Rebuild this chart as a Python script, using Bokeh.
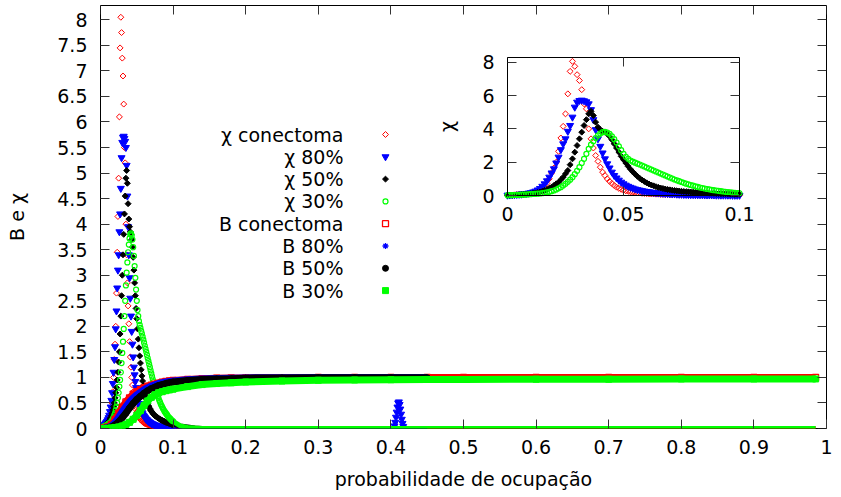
import numpy as np
from bokeh.plotting import figure
from bokeh.models import (Range1d, LinearAxis, FixedTicker, NumeralTickFormatter,
                          CustomJSTickFormatter)
from bokeh.core.properties import value
from bokeh.embed import file_html
from bokeh.resources import INLINE

FONT = "DejaVu Sans"
FS = "19px"
RED, BLUE, BLACK, GREEN = "#ff0000", "#0000ff", "#000000", "#00ff00"

# ---------------------------------------------------------------- data
# fine scan of the occupation probability, 0 .. 0.1 in steps of 0.001
P_FINE = np.round(np.arange(101) * 0.001, 3)

CHI_CON = [0.02, 0.03, 0.03, 0.04, 0.05, 0.05, 0.06, 0.07, 0.08, 0.09, 0.10,
           0.12, 0.15, 0.19, 0.25, 0.35, 0.50, 0.72, 1.00, 1.35, 1.65,
           2.00, 2.65, 3.45, 4.15, 4.90, 6.10, 7.45, 8.05, 7.75, 7.25,
           6.90, 6.35, 5.50, 5.20, 4.00, 3.40, 2.85, 2.40, 2.05, 1.70,
           1.40, 1.20, 1.00, 0.85, 0.72, 0.60, 0.50, 0.43, 0.37, 0.32,
           0.28, 0.25, 0.22, 0.20, 0.18, 0.16, 0.15, 0.13, 0.12, 0.11,
           0.10, 0.09, 0.09, 0.08, 0.08, 0.07, 0.07, 0.06, 0.06, 0.06,
           0.05, 0.05, 0.05, 0.04, 0.04, 0.04, 0.04, 0.03, 0.03, 0.03,
           0.03, 0.03, 0.03, 0.02, 0.02, 0.02, 0.02, 0.02, 0.02, 0.02,
           0.02, 0.02, 0.01, 0.01, 0.01, 0.01, 0.01, 0.01, 0.01, 0.01]

CHI_80 = [0.02, 0.03, 0.04, 0.05, 0.06, 0.07, 0.08, 0.10, 0.12, 0.14, 0.17,
          0.21, 0.26, 0.33, 0.42, 0.55, 0.70, 0.88, 1.10, 1.35, 1.60,
          1.95, 2.30, 2.75, 3.10, 3.40, 3.85, 4.20, 4.70, 5.30, 5.60,
          5.70, 5.72, 5.68, 5.62, 5.50, 5.15, 4.55, 3.95, 3.40, 2.95,
          2.55, 2.20, 1.90, 1.65, 1.40, 1.20, 1.05, 0.92, 0.80, 0.70,
          0.62, 0.55, 0.49, 0.44, 0.39, 0.35, 0.32, 0.29, 0.26, 0.24,
          0.22, 0.20, 0.18, 0.17, 0.15, 0.14, 0.13, 0.12, 0.11, 0.10,
          0.09, 0.09, 0.08, 0.07, 0.07, 0.06, 0.06, 0.05, 0.05, 0.05,
          0.04, 0.04, 0.04, 0.04, 0.03, 0.03, 0.03, 0.03, 0.03, 0.02,
          0.02, 0.02, 0.02, 0.02, 0.02, 0.02, 0.01, 0.01, 0.01, 0.01]

CHI_50 = [0.01, 0.02, 0.02, 0.03, 0.04, 0.05, 0.06, 0.07, 0.08, 0.09, 0.11,
          0.13, 0.15, 0.18, 0.21, 0.25, 0.30, 0.36, 0.43, 0.50, 0.60,
          0.70, 0.80, 0.95, 1.10, 1.30, 1.50, 1.85, 2.20, 2.60, 3.00,
          3.40, 3.80, 4.20, 4.55, 4.90, 5.05, 4.80, 4.40, 4.10, 3.95,
          3.85, 3.80, 3.70, 3.55, 3.35, 3.10, 2.85, 2.60, 2.35, 2.15,
          1.95, 1.75, 1.58, 1.42, 1.28, 1.15, 1.03, 0.93, 0.84, 0.76,
          0.69, 0.63, 0.58, 0.53, 0.49, 0.45, 0.42, 0.39, 0.36, 0.34,
          0.32, 0.30, 0.28, 0.27, 0.25, 0.24, 0.23, 0.22, 0.21, 0.20,
          0.19, 0.18, 0.17, 0.16, 0.16, 0.15, 0.14, 0.14, 0.13, 0.12,
          0.12, 0.11, 0.11, 0.10, 0.10, 0.09, 0.09, 0.08, 0.08, 0.08]

CHI_30 = [0.01, 0.02, 0.02, 0.03, 0.03, 0.04, 0.05, 0.05, 0.06, 0.07, 0.08,
          0.09, 0.10, 0.11, 0.12, 0.14, 0.16, 0.19, 0.22, 0.26, 0.30,
          0.36, 0.43, 0.50, 0.60, 0.70, 0.82, 0.95, 1.10, 1.28, 1.48,
          1.70, 1.95, 2.20, 2.50, 2.80, 3.05, 3.25, 3.45, 3.60, 3.72,
          3.80, 3.82, 3.78, 3.70, 3.55, 3.38, 3.18, 2.95, 2.72, 2.50,
          2.32, 2.20, 2.10, 2.03, 1.97, 1.91, 1.86, 1.80, 1.74, 1.68,
          1.62, 1.56, 1.50, 1.44, 1.38, 1.32, 1.26, 1.20, 1.14, 1.08,
          1.02, 0.96, 0.91, 0.86, 0.81, 0.76, 0.71, 0.67, 0.63, 0.59,
          0.55, 0.52, 0.48, 0.45, 0.42, 0.39, 0.37, 0.34, 0.32, 0.30,
          0.28, 0.26, 0.24, 0.22, 0.21, 0.19, 0.18, 0.16, 0.15, 0.14]

# susceptibility beyond p = 0.1 (coarse samples)
P_TAIL_LONG = [0.10, 0.11, 0.12, 0.13, 0.14, 0.16, 0.2, 0.3, 0.4, 0.5, 0.6, 0.7, 0.8, 0.9, 0.985]
P_TAIL_SHORT = [0.10, 0.11, 0.12, 0.13, 0.14, 0.16, 0.2, 0.3, 0.4, 0.45]
CHI_CON_TAIL = [0.01, 0.01, 0.0, 0.0, 0.0, 0.0, 0.0, 0.0, 0.0, 0.0, 0.0, 0.0, 0.0, 0.0, 0.0]
CHI_80_TAIL = [0.01, 0.01, 0.0, 0.0, 0.0, 0.0, 0.0, 0.0, 0.0, 0.0]
CHI_50_TAIL = [0.08, 0.05, 0.03, 0.01, 0.0, 0.0, 0.0, 0.0, 0.0, 0.0]
CHI_30_TAIL = [0.14, 0.05, 0.02, 0.01, 0.0, 0.0, 0.0, 0.0, 0.0, 0.0, 0.0, 0.0, 0.0, 0.0, 0.0]

# isolated fluctuation of the 80% network near p = 0.41
P_SPIKE = [0.405, 0.406, 0.407, 0.408, 0.409, 0.410, 0.411, 0.412, 0.413, 0.414, 0.415, 0.416, 0.417]
CHI_80_SPIKE = [0.05, 0.12, 0.22, 0.32, 0.42, 0.50, 0.52, 0.47, 0.38, 0.28, 0.18, 0.10, 0.04]

# order parameter B
P_B = [0.0, 0.005, 0.01, 0.015, 0.02, 0.025, 0.03, 0.035, 0.04, 0.045, 0.05,
       0.055, 0.06, 0.065, 0.07, 0.075, 0.08, 0.085, 0.09, 0.095, 0.1,
       0.12, 0.14, 0.16, 0.18, 0.2, 0.25, 0.3, 0.35, 0.4, 0.45,
       0.5, 0.6, 0.7, 0.8, 0.9, 0.985]
B_CON = [0.0, 0.01, 0.03, 0.08, 0.18, 0.30, 0.42, 0.52, 0.60, 0.67, 0.72,
         0.76, 0.80, 0.83, 0.85, 0.87, 0.89, 0.905, 0.92, 0.93, 0.94,
         0.96, 0.975, 0.985, 0.99, 0.99, 0.995, 1.0, 1.0, 1.0, 1.0,
         1.0, 1.0, 1.0, 1.0, 1.0, 1.0]
B_80 = [0.0, 0.005, 0.02, 0.05, 0.12, 0.22, 0.33, 0.43, 0.52, 0.60, 0.66,
        0.71, 0.76, 0.80, 0.83, 0.855, 0.88, 0.895, 0.91, 0.92, 0.93,
        0.955, 0.97, 0.98, 0.985, 0.99, 0.995, 1.0, 1.0, 1.0, 1.0]
B_50 = [0.0, 0.003, 0.01, 0.03, 0.07, 0.13, 0.21, 0.30, 0.40, 0.49, 0.57,
        0.63, 0.69, 0.74, 0.78, 0.81, 0.84, 0.86, 0.88, 0.895, 0.91,
        0.94, 0.96, 0.97, 0.975, 0.985, 0.99, 0.995, 0.995, 0.995, 0.995]
B_30 = [0.0, 0.002, 0.005, 0.01, 0.02, 0.03, 0.05, 0.08, 0.12, 0.18, 0.26,
        0.35, 0.45, 0.54, 0.61, 0.66, 0.70, 0.72, 0.74, 0.755, 0.77,
        0.82, 0.86, 0.88, 0.895, 0.91, 0.93, 0.945, 0.95, 0.955, 0.96,
        0.96, 0.965, 0.965, 0.97, 0.97, 0.97]

LEGEND_LABELS = ["χ conectoma", "χ 80%", "χ 50%", "χ 30%",
                 "B conectoma", "B 80%", "B 50%", "B 30%"]
X_TICKS = [0, 0.1, 0.2, 0.3, 0.4, 0.5, 0.6, 0.7, 0.8, 0.9, 1]
Y_TICKS = [0, 0.5, 1, 1.5, 2, 2.5, 3, 3.5, 4, 4.5, 5, 5.5, 6, 6.5, 7, 7.5, 8]
INSET_X_TICKS = [0, 0.05, 0.1]
INSET_Y_TICKS = [0, 2, 4, 6, 8]

# ---------------------------------------------------------------- styles
STYLES = [
    dict(marker="square", size=4.2, angle=np.pi / 4, line_color=RED, fill_color=None, line_width=1),
    dict(marker="inverted_triangle", size=7, line_color=BLUE, fill_color=BLUE, line_width=1),
    dict(marker="square", size=4.2, angle=np.pi / 4, line_color=BLACK, fill_color=BLACK, line_width=1),
    dict(marker="circle", size=5, line_color=GREEN, fill_color=None, line_width=1.2),
    dict(marker="square", size=6, line_color=RED, fill_color=None, line_width=1.3),
    dict(marker="asterisk", size=6, line_color=BLUE, line_width=1.3),
    dict(marker="circle", size=6, line_color=BLACK, fill_color=BLACK),
    dict(marker="square", size=6, line_color=GREEN, fill_color=GREEN),
]
COLORS = [RED, BLUE, BLACK, GREEN]

YMAX = 8.28
W, H = 841, 497
FRAME_L, FRAME_R, FRAME_T, FRAME_B = 100, 826, 5, 428


def px_x(px):
    return (px - FRAME_L) / (FRAME_R - FRAME_L)


def px_y(py):
    return (FRAME_B - py) / (FRAME_B - FRAME_T) * YMAX


p = figure(width=W, height=H, x_range=Range1d(0, 1), y_range=Range1d(0, YMAX),
           output_backend="svg", toolbar_location=None,
           min_border_left=FRAME_L, min_border_right=W - FRAME_R,
           min_border_top=FRAME_T, min_border_bottom=H - FRAME_B)
p.grid.visible = False
p.outline_line_color = "black"
p.outline_line_width = 1
p.background_fill_color = "white"
p.border_fill_color = "white"


def style_axis(ax, line=False):
    ax.axis_line_color = "black" if line else None
    ax.major_tick_in = 9
    ax.major_tick_out = 0
    ax.major_tick_line_color = "#333333"
    ax.minor_tick_line_color = None
    ax.major_label_text_font = FONT
    ax.major_label_text_font_size = FS
    ax.major_label_text_color = "black"
    ax.axis_label_text_font = FONT
    ax.axis_label_text_font_size = FS
    ax.axis_label_text_font_style = "normal"
    ax.axis_label_text_color = "black"


xa = p.xaxis[0]
ya = p.yaxis[0]
xa.ticker = FixedTicker(ticks=X_TICKS)
ya.ticker = FixedTicker(ticks=Y_TICKS)
xa.formatter = NumeralTickFormatter(format="0.[0]")
ya.formatter = NumeralTickFormatter(format="0.[0]")
xa.axis_label = "probabilidade de ocupação"
ya.axis_label = "B e χ"
style_axis(xa)
style_axis(ya)
xa.major_label_standoff = 11
xa.axis_label_standoff = 11
ya.major_label_standoff = 13
ya.axis_label_standoff = 26

blank = CustomJSTickFormatter(code="return ''")
top = LinearAxis(ticker=FixedTicker(ticks=X_TICKS), formatter=blank, fixed_location=YMAX)
right = LinearAxis(ticker=FixedTicker(ticks=Y_TICKS), formatter=blank, fixed_location=1)
style_axis(top)
style_axis(right)
p.add_layout(top, "above")
p.add_layout(right, "right")

# ---------------------------------------------------------------- main panel
chi_series = [CHI_CON, CHI_80, CHI_50, CHI_30]
chi_tails = [(P_TAIL_LONG, CHI_CON_TAIL), (P_TAIL_SHORT, CHI_80_TAIL),
             (P_TAIL_SHORT, CHI_50_TAIL), (P_TAIL_LONG, CHI_30_TAIL)]
for i, chi in enumerate(chi_series):
    tp, tv = chi_tails[i]
    p.line(tp, tv, line_color=COLORS[i], line_width=5)
    p.scatter(P_FINE, chi, **STYLES[i])
    if i == 1:
        p.scatter(P_SPIKE, CHI_80_SPIKE, **STYLES[i])

b_series = [B_CON, B_80, B_50, B_30]
for i, b in enumerate(b_series):
    n = len(b)
    p.line(P_B[:n], b, line_color=COLORS[i], line_width=7)
    p.scatter(P_B[:n], b, **STYLES[4 + i])

# legend (gnuplot style: right-aligned text, sample to the right)
LEG_TEXT_X = px_x(343)
LEG_MARK_X = px_x(385)
for i, label in enumerate(LEGEND_LABELS):
    ly = px_y(134 + i * 22.3)
    p.text(x=[LEG_TEXT_X], y=[ly], text=[label], text_align="right",
           text_baseline="middle", text_font=value(FONT), text_font_size=FS,
           text_color="black")
    p.scatter(x=[LEG_MARK_X], y=[ly], **STYLES[i])

# ---------------------------------------------------------------- inset
IN_L, IN_R, IN_T, IN_B = 507, 739, 57, 195
ax0, ax1 = px_x(IN_L), px_x(IN_R)
ay0, ay1 = px_y(IN_B), px_y(IN_T)
kx = 0.1 / (ax1 - ax0)
ky = YMAX / (ay1 - ay0)
p.extra_x_ranges = {"ix": Range1d(-ax0 * kx, (1 - ax0) * kx)}
p.extra_y_ranges = {"iy": Range1d(-ay0 * ky, (YMAX - ay0) * ky)}

p.quad(left=[0], right=[0.1], bottom=[0], top=[YMAX], fill_color="white",
       line_color=None, x_range_name="ix", y_range_name="iy")

il = LinearAxis(x_range_name="ix", y_range_name="iy", fixed_location=0,
                ticker=FixedTicker(ticks=INSET_Y_TICKS), bounds=(0, YMAX),
                axis_label="χ")
ib = LinearAxis(x_range_name="ix", y_range_name="iy", fixed_location=0,
                ticker=FixedTicker(ticks=INSET_X_TICKS), bounds=(0, 0.1),
                formatter=NumeralTickFormatter(format="0.[00]"))
ir = LinearAxis(x_range_name="ix", y_range_name="iy", fixed_location=0.1,
                ticker=FixedTicker(ticks=INSET_Y_TICKS), bounds=(0, YMAX),
                formatter=blank)
it = LinearAxis(x_range_name="ix", y_range_name="iy", fixed_location=YMAX,
                ticker=FixedTicker(ticks=INSET_X_TICKS), bounds=(0, 0.1),
                formatter=blank)
for ax in (il, ib, ir, it):
    style_axis(ax, line=True)
il.major_label_standoff = 13
il.axis_label_standoff = 21
ib.major_label_standoff = 11
p.add_layout(il, "left")
p.add_layout(ib, "below")
p.add_layout(ir, "right")
p.add_layout(it, "above")

for i, chi in enumerate(chi_series):
    p.scatter(P_FINE, chi, x_range_name="ix", y_range_name="iy", **STYLES[i])

open("out.html", "w").write(file_html(p, INLINE))
